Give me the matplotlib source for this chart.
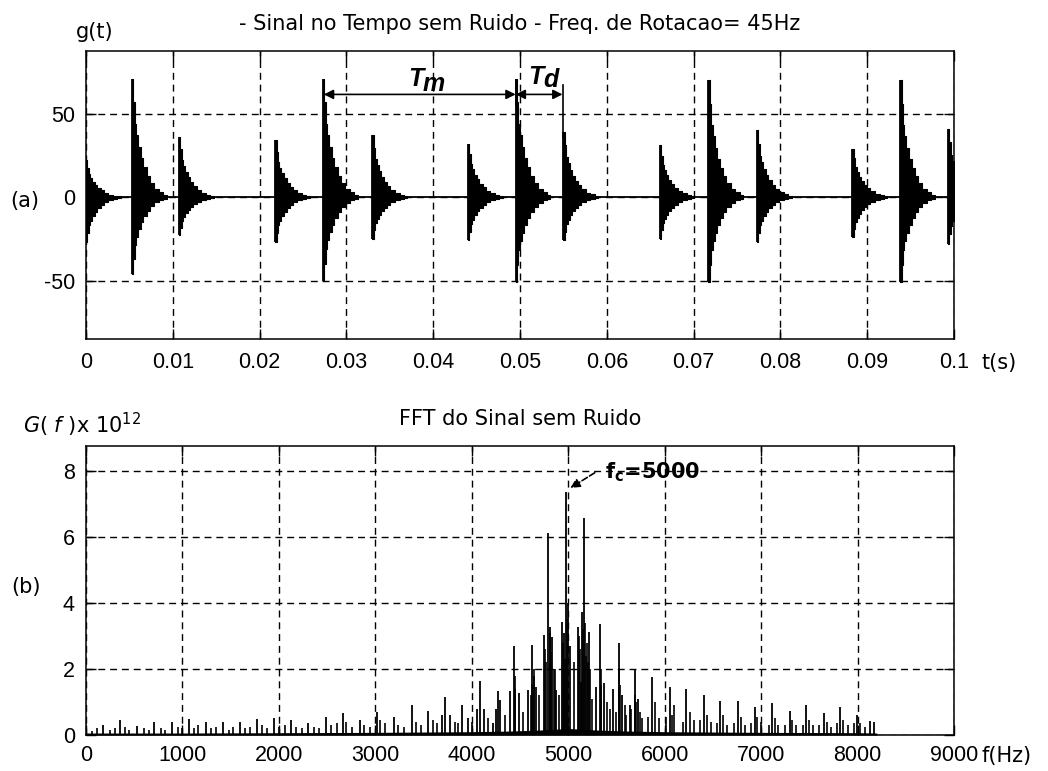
import matplotlib
matplotlib.use('Agg')
import matplotlib.pyplot as plt
import numpy as np

plt.rcParams['font.family'] = ['DejaVu Sans']
plt.rcParams['mathtext.fontset'] = 'dejavusans'

# ---------------- (a) time signal: bursts ----------------
burst_t = [0.0, 0.0053, 0.0107, 0.0218, 0.0273, 0.0330, 0.0440, 0.0495,
           0.0550, 0.0661, 0.0717, 0.0773, 0.0883, 0.0938, 0.0993]
burst_pos = [22, 71, 36, 34, 71, 37, 32, 71, 39, 31, 70, 40, 29, 70, 41]
burst_neg = [-27, -46, -23, -27, -50, -25, -26, -51, -26, -25, -51, -27, -24, -51, -28]
# decay envelope of one burst (fraction of burst length, relative amplitude)
env_frac = [0.0, 0.02, 0.04, 0.08, 0.12, 0.18, 0.25, 0.33, 0.42, 0.52, 0.64, 0.78, 0.90, 1.0]
env_amp = [1.0, 1.0, 0.80, 0.62, 0.52, 0.42, 0.33, 0.25, 0.18, 0.12, 0.07, 0.04, 0.02, 0.0]
burst_len = 0.0040

time_ticks = [0, 0.01, 0.02, 0.03, 0.04, 0.05, 0.06, 0.07, 0.08, 0.09, 0.1]
time_ticklabels = ['0', '0.01', '0.02', '0.03', '0.04', '0.05', '0.06', '0.07', '0.08', '0.09', '0.1']
amp_ticks = [-50, 0, 50]

# ---------------- (b) spectrum lines ----------------
spec_f = [177, 355, 532, 710, 887, 1065, 1242, 1420, 1597, 1775, 1952, 2130, 2307, 2485,
          2662, 2840, 3017, 3195, 3385, 3548, 3692, 3727, 3772, 3903, 3962, 4049, 4090,
          4128, 4221, 4256, 4273, 4290, 4397, 4438, 4487, 4584, 4629, 4670, 4749, 4795,
          4808, 4836, 4878, 4936, 4957, 4981, 4998, 5016, 5102, 5130, 5147, 5164, 5216,
          5285, 5326, 5368, 5465, 5523, 5562, 5637, 5689, 5724, 5868, 6052, 6224, 6407,
          6577, 6760, 6933, 7116, 7295, 7468, 7648, 7821, 7993, 8132, 8166]
spec_g = [0.30, 0.44, 0.28, 0.40, 0.38, 0.48, 0.40, 0.40, 0.40, 0.48, 0.50, 0.46, 0.36, 0.54,
          0.68, 0.46, 0.71, 0.56, 0.91, 0.74, 0.60, 1.16, 0.60, 0.90, 0.50, 0.80, 1.65,
          0.80, 0.35, 0.80, 1.34, 1.06, 1.34, 2.68, 1.28, 1.36, 2.73, 1.46, 3.03, 6.13,
          3.28, 2.97, 1.36, 3.43, 3.10, 7.37, 4.00, 2.70, 3.28, 1.60, 3.73, 6.57, 3.12,
          1.46, 3.36, 1.56, 1.40, 2.80, 1.20, 0.90, 1.96, 1.10, 1.77, 1.46, 1.39, 1.21,
          1.04, 1.04, 0.86, 0.98, 0.74, 0.91, 0.67, 0.86, 0.60, 0.43, 0.40]
minor_f = [60, 110, 250, 300, 400, 450, 600, 650, 780, 820, 950, 1000, 1120, 1160, 1300,
           1350, 1480, 1520, 1650, 1700, 1820, 1880, 2000, 2060, 2180, 2240, 2360, 2420,
           2540, 2600, 2700, 2760, 2880, 2940, 3050, 3100, 3240, 3300, 3420, 3470, 3600,
           3640, 3830, 3860, 4000, 4170, 4340, 4445, 4450, 4530, 4610, 4620, 4640, 4650,
           4700, 4760, 4770, 4815, 4825, 4850, 4860, 4900, 4945, 4965, 4990, 5060, 5110,
           5120, 5155, 5175, 5180, 5190, 5200, 5225, 5250, 5335, 5340, 5400, 5430, 5500,
           5530, 5540, 5590, 5600, 5650, 5695, 5700, 5740, 5760, 5830, 5900, 5940, 6010,
           6080, 6100, 6190, 6260, 6300, 6370, 6440, 6480, 6540, 6610, 6650, 6720, 6790,
           6830, 6900, 6960, 7000, 7080, 7140, 7180, 7250, 7320, 7360, 7430, 7500, 7540,
           7600, 7680, 7720, 7790, 7850, 7900, 7960, 8030, 8080]
minor_g = [0.12, 0.20, 0.15, 0.20, 0.25, 0.15, 0.20, 0.15, 0.20, 0.15, 0.25, 0.20, 0.20, 0.30,
           0.20, 0.25, 0.15, 0.25, 0.20, 0.25, 0.30, 0.20, 0.25, 0.30, 0.25, 0.20, 0.25, 0.20,
           0.30, 0.35, 0.40, 0.25, 0.30, 0.25, 0.45, 0.35, 0.30, 0.25, 0.40, 0.30, 0.45,
           0.35, 0.40, 0.35, 0.40, 0.50, 0.60, 1.80, 1.40, 0.70, 1.20, 1.50, 2.00, 1.80,
           1.20, 2.60, 2.20, 3.10, 2.50, 2.00, 2.00, 1.20, 2.80, 2.30, 3.50, 2.20, 3.00,
           2.60, 3.20, 3.40, 2.40, 2.80, 2.20, 2.00, 1.10, 2.00, 1.50, 1.00, 0.80, 0.70,
           2.00, 1.50, 0.90, 0.60, 0.80, 1.20, 1.00, 0.70, 0.50, 0.55, 1.00, 0.50, 0.55,
           0.60, 0.90, 0.40, 0.70, 0.45, 0.45, 0.60, 0.40, 0.35, 0.60, 0.30, 0.35, 0.55,
           0.30, 0.35, 0.55, 0.40, 0.30, 0.50, 0.30, 0.30, 0.45, 0.30, 0.30, 0.45, 0.30,
           0.30, 0.40, 0.25, 0.35, 0.45, 0.30, 0.35, 0.35, 0.25]
floor_f = [0, 1000, 2000, 3000, 4000, 4400, 4700, 4900, 5000, 5100, 5300, 5600, 6000, 7000, 8000, 8200]
floor_g = [0.06, 0.06, 0.07, 0.08, 0.10, 0.12, 0.15, 0.18, 0.20, 0.18, 0.15, 0.12, 0.10, 0.08, 0.07, 0.06]

freq_ticks = [0, 1000, 2000, 3000, 4000, 5000, 6000, 7000, 8000, 9000]
G_ticks = [0, 2, 4, 6, 8]

W, H = 1048, 771
fig = plt.figure(figsize=(W / 100, H / 100), dpi=100)
TICK_FONT = 'Liberation Sans'


def px_rect(x0, y0, x1, y1):
    return [x0 / W, 1 - y1 / H, (x1 - x0) / W, (y1 - y0) / H]


def style_axes(ax, pad):
    for s in ax.spines.values():
        s.set_linewidth(1.1)
        s.set_color('black')
    ax.tick_params(direction='in', length=7, width=1.0, top=True, right=True,
                   labelsize=15.5, pad=pad, colors='black',
                   labelfontfamily=TICK_FONT)
    ax.grid(True, color='black', linestyle=(0, (5, 3.5)), linewidth=1.0)
    ax.set_axisbelow(True)


# ---------------- top axes ----------------
ax1 = fig.add_axes(px_rect(86, 51, 954, 339))
ax1.axhline(0, color='black', lw=1.3, zorder=2)
ef = np.array(env_frac)
ea = np.array(env_amp)
for t0, ap, an in zip(burst_t, burst_pos, burst_neg):
    tt = t0 + ef * burst_len
    ax1.fill_between(tt, ea * an, ea * ap, step='post', color='black', lw=0.8,
                     edgecolor='black', zorder=3)
    ax1.vlines(t0, an, ap, color='black', lw=1.3, zorder=3)
ax1.set_xlim(0, 0.1)
ax1.set_ylim(-85, 87.5)
ax1.set_xticks(time_ticks)
ax1.set_xticklabels(time_ticklabels)
ax1.set_yticks(amp_ticks)
ax1.set_yticklabels(['-50', '0', '50'])
style_axes(ax1, 8)
ax1.tick_params(axis='x', pad=9)

# Tm / Td annotations
ap_kw = dict(arrowstyle='<|-|>', color='black', lw=1.2, mutation_scale=14,
             shrinkA=0, shrinkB=0)
ax1.annotate('', xy=(0.0274, 61.5), xytext=(0.0495, 61.5), arrowprops=ap_kw, zorder=5)
ax1.annotate('', xy=(0.0495, 61.5), xytext=(0.0549, 61.5), arrowprops=ap_kw, zorder=5)
ax1.plot([0.0274, 0.0274], [70, 55], color='black', lw=1.2, zorder=5)
ax1.plot([0.0495, 0.0495], [70, 55], color='black', lw=1.2, zorder=5)
ax1.plot([0.0549, 0.0549], [67, 36], color='black', lw=1.2, zorder=5)
txt_kw = dict(fontsize=18, fontstyle='italic', fontweight='bold', family=TICK_FONT, zorder=6)
ax1.text(0.0380, 71, 'T', ha='center', va='center', **txt_kw)
ax1.text(0.0401, 68, 'm', ha='center', va='center', **txt_kw)
ax1.text(0.0518, 72, 'T', ha='center', va='center', **txt_kw)
ax1.text(0.0536, 70, 'd', ha='center', va='center', **txt_kw)

# ---------------- bottom axes ----------------
ax2 = fig.add_axes(px_rect(86, 446, 954, 735))
ax2.fill_between(floor_f, 0, floor_g, color='black', lw=0, zorder=2)
ax2.vlines(minor_f, 0, minor_g, color='black', lw=1.2, zorder=3)
ax2.vlines(spec_f, 0, spec_g, color='black', lw=1.3, zorder=3)
ax2.set_xlim(0, 9000)
ax2.set_ylim(0, 8.75)
ax2.set_xticks(freq_ticks)
ax2.set_xticklabels([str(v) for v in freq_ticks])
ax2.set_yticks(G_ticks)
ax2.set_yticklabels([str(v) for v in G_ticks])
style_axes(ax2, 8)
ax2.tick_params(axis='x', pad=7)
ax2.annotate('', xy=(5022, 7.48), xytext=(5275, 7.94),
             arrowprops=dict(arrowstyle='-|>', color='black', lw=1.2, linestyle='--',
                             mutation_scale=14, shrinkA=0, shrinkB=0), zorder=5)
ax2.text(5380, 7.97, r'$\mathbf{f_c}$=5000', fontsize=15, fontweight='bold',
         ha='left', va='center', zorder=6)

# ---------------- figure texts ----------------
def ftext(x, y, s, **kw):
    fig.text(x / W, 1 - y / H, s, **kw)


ftext(520, 30, '- Sinal no Tempo sem Ruido - Freq. de Rotacao= 45Hz', fontsize=15,
      ha='center', va='baseline')
ftext(95, 38, 'g(t)', fontsize=15, ha='center', va='baseline')
ftext(25, 207, '(a)', fontsize=15, ha='center', va='baseline')
ftext(981, 369, 't(s)', fontsize=15, ha='left', va='baseline')
ftext(520, 425, 'FFT do Sinal sem Ruido', fontsize=15, ha='center', va='baseline')
ftext(23, 433, r'$G($ $f$ $)$x 10$^{12}$', fontsize=15, ha='left', va='baseline')
ftext(26, 593, '(b)', fontsize=15, ha='center', va='baseline')
ftext(982, 762, 'f(Hz)', fontsize=15, ha='left', va='baseline')

fig.savefig('out.png', dpi=100, facecolor='white')
